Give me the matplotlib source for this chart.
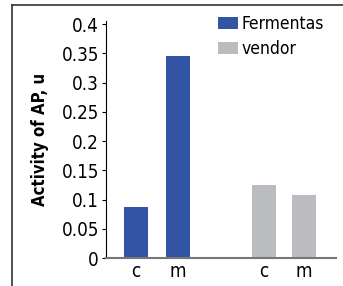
import matplotlib.pyplot as plt
from matplotlib.lines import Line2D

# data
labels = ['c', 'm', 'c', 'm']
positions = [0, 1, 3.05, 4.0]
fermentas = [0.088, 0.346]
vendor = [0.125, 0.108]

blue = '#3354a4'
grey = '#bbbcc0'

plt.rcParams['font.family'] = ['DejaVu Sans']
plt.rcParams['font.stretch'] = 'condensed'

fig = plt.figure(figsize=(3.43, 2.86), dpi=100)
ax = fig.add_axes([0.309, 0.097, 0.671, 0.829])

ax.bar(positions[:2], fermentas, width=0.57, color=blue, label='Fermentas')
ax.bar(positions[2:], vendor, width=0.57, color=grey, label='vendor')

ax.set_xlim(-0.71, 4.76)
ax.set_ylim(0, 0.405)
ax.set_yticks([0, 0.05, 0.1, 0.15, 0.2, 0.25, 0.3, 0.35, 0.4])
ax.set_yticklabels(['0', '0.05', '0.1', '0.15', '0.2', '0.25', '0.3', '0.35', '0.4'])
ax.set_xticks(positions)
ax.set_xticklabels(labels)
ax.tick_params(axis='y', labelsize=13.5, length=3, width=0.8, pad=2)
ax.tick_params(axis='x', labelsize=13.5, length=0, pad=3)

ax.spines['top'].set_visible(False)
ax.spines['right'].set_visible(False)
ax.spines['left'].set_linewidth(0.8)
ax.spines['bottom'].set_color('#777777')
ax.spines['bottom'].set_linewidth(1.5)

ax.set_ylabel('Activity of AP, u', fontsize=12, fontweight='bold', labelpad=9)

ax.legend(loc='upper right', bbox_to_anchor=(0.975, 1.055), frameon=False,
          fontsize=12.5, handlelength=1.1, handleheight=0.75, handletextpad=0.2,
          labelspacing=0.4, borderaxespad=0)

# frame lines at top and left of the figure
fig.add_artist(Line2D([12 / 343, 1], [1 - 5 / 286, 1 - 5 / 286], color='#333333', lw=1.2))
fig.add_artist(Line2D([12 / 343, 12 / 343], [0, 1 - 5 / 286], color='#333333', lw=1.2))

fig.savefig('out.png', dpi=100)
